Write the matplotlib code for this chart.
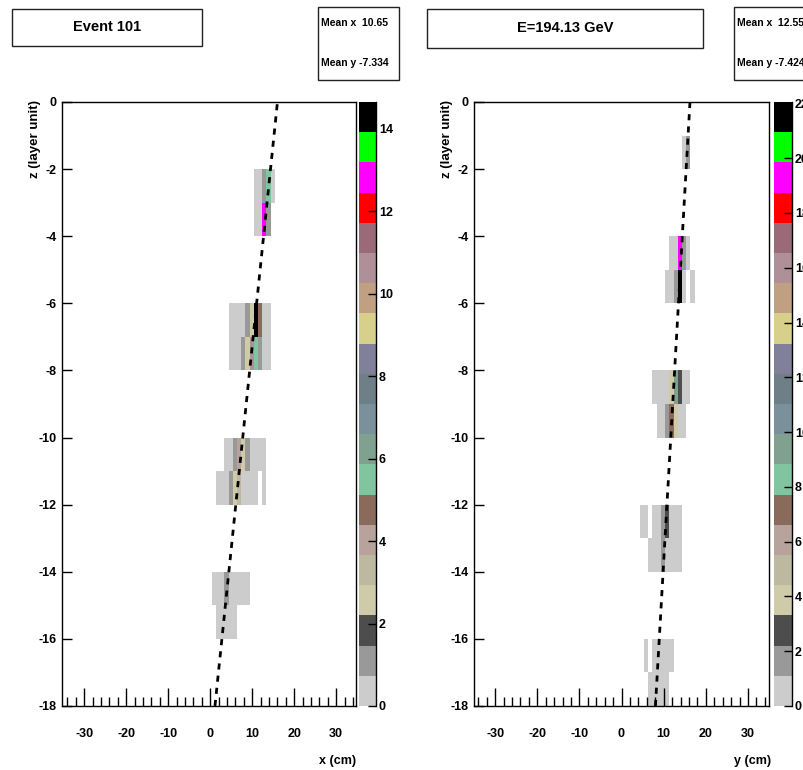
import numpy as np
import matplotlib
matplotlib.use("Agg")
import matplotlib.pyplot as plt
from matplotlib.colors import ListedColormap
from matplotlib.patches import Rectangle
from matplotlib.ticker import MultipleLocator

plt.rcParams['font.family'] = ['Liberation Sans', 'DejaVu Sans']
plt.rcParams['font.weight'] = 'bold'
plt.rcParams['axes.unicode_minus'] = False

# ---------------- data ----------------
palette = ['#cccccc', '#999999', '#4d4d4d', '#cfcaa8', '#bdb8a0', '#b8a39c',
           '#8a6a5a', '#80c4a0', '#80a090', '#7a909a', '#6e7f88', '#80809a',
           '#d6d08a', '#c0a080', '#b09098', '#9a6a78', '#ff0000', '#ff00ff',
           '#00ff00', '#000000']

# left panel: x (cm) cell centres, z (layer) centres, energy
left_x = [10.5, 11.5, 12.5, 13.5, 14.5,
          10.5, 11.5, 12.5, 13.5,
          4.5, 5.5, 6.5, 7.5, 8.5, 9.5, 10.5, 11.5, 12.5, 13.5,
          4.5, 5.5, 6.5, 7.5, 8.5, 9.5, 10.5, 11.5, 12.5, 13.5,
          3.5, 4.5, 5.5, 6.5, 7.5, 8.5, 9.5, 10.5, 11.5, 12.5,
          1.5, 2.5, 3.5, 4.5, 5.5, 6.5, 7.5, 8.5, 9.5, 10.5, 12.5,
          0.5, 1.5, 2.5, 3.5, 4.5, 5.5, 6.5, 7.5, 8.5,
          1.5, 2.5, 3.5, 4.5, 5.5]
left_z = [-2.5] * 5 + [-3.5] * 4 + [-6.5] * 10 + [-7.5] * 10 + [-10.5] * 10 + \
         [-11.5] * 11 + [-14.5] * 9 + [-15.5] * 5
left_e = [0.4, 0.4, 1.1, 5.5, 0.4,
          0.4, 0.4, 12.8, 1.1,
          0.4, 0.4, 0.4, 0.4, 1.1, 2.6, 14.6, 4.8, 0.4, 0.4,
          0.4, 0.4, 0.4, 1.1, 2.6, 10.6, 5.5, 1.1, 0.4, 0.4,
          0.4, 0.4, 1.1, 4.0, 2.6, 1.1, 0.4, 0.4, 0.4, 0.4,
          0.4, 0.4, 0.4, 1.1, 2.6, 3.3, 0.4, 0.4, 0.4, 0.4, 0.4,
          0.4, 0.4, 0.4, 1.1, 0.4, 0.4, 0.4, 0.4, 0.4,
          0.4, 0.4, 0.4, 0.4, 0.4]
left_vmax = 14.65
left_fit_x = [1.12, 16.0]
fit_z = [-18.0, 0.0]

# right panel: y (cm) cell centres, z centres, energy
right_y = [14.5, 15.5,
           11.5, 12.5, 13.5, 14.5, 15.5,
           10.5, 11.5, 12.5, 13.5, 14.5, 16.5,
           7.5, 8.5, 9.5, 10.5, 11.5, 12.5, 13.5, 14.5, 15.5,
           8.5, 9.5, 10.5, 11.5, 12.5, 13.5, 14.5,
           4.5, 5.5, 7.5, 8.5, 9.5, 10.5, 11.5, 12.5, 13.5,
           6.5, 7.5, 8.5, 9.5, 10.5, 11.5, 12.5, 13.5,
           5.5, 7.5, 8.5, 9.5, 10.5, 11.5,
           6.5, 7.5, 8.5, 9.5, 10.5]
right_z = [-1.5] * 2 + [-4.5] * 5 + [-5.5] * 6 + [-8.5] * 9 + [-9.5] * 7 + \
          [-12.5] * 9 + [-13.5] * 8 + [-16.5] * 6 + [-17.5] * 5
right_e = [0.5, 1.6,
           0.5, 0.5, 19.3, 1.6, 0.5,
           0.5, 0.5, 1.6, 21.5, 0.5, 0.5,
           0.5, 0.5, 0.5, 0.5, 3.8, 9.4, 2.7, 0.5, 0.5,
           0.5, 0.5, 1.6, 7.2, 3.8, 0.5, 0.5,
           0.5, 0.5, 0.5, 0.5, 1.6, 2.7, 0.5, 0.5, 0.5,
           0.5, 0.5, 0.5, 1.6, 0.5, 0.5, 0.5, 0.5,
           0.5, 0.5, 0.5, 0.5, 0.5, 0.5,
           0.5, 0.5, 0.5, 0.5, 0.5]
right_vmax = 22.05
right_fit_y = [8.05, 16.25]

x_ticks = [-30, -20, -10, 0, 10, 20, 30]
z_ticks = [0, -2, -4, -6, -8, -10, -12, -14, -16, -18]

# ---------------- figure ----------------
W, H = 804, 770
fig = plt.figure(figsize=(W / 100, H / 100), dpi=100)
fig.patch.set_facecolor('white')


def frect(x0, y0, x1, y1):
    return [x0 / W, 1 - y1 / H, (x1 - x0) / W, (y1 - y0) / H]


cmap = ListedColormap(palette)
xedges = np.arange(-35, 36, 1) + 0.35
zedges = np.arange(-18, 1, 1)


def panel(ax_px, cax_px, xlim, xs, zs, es, vmax, fit_x, cticks, xlabel, xlabel_px):
    ax = fig.add_axes(frect(*ax_px))
    Hh, _, _ = np.histogram2d(xs, zs, bins=[xedges, zedges], weights=es)
    Hm = np.ma.masked_where(Hh.T <= 0, Hh.T)
    mesh = ax.pcolormesh(xedges, zedges, Hm, cmap=cmap, vmin=0, vmax=vmax)
    ax.plot(fit_x, fit_z, color='black', lw=2, linestyle=(0, (2.2, 2.2)))
    ax.set_xlim(*xlim)
    ax.set_ylim(-18, 0)
    ax.set_xticks(x_ticks)
    ax.xaxis.set_minor_locator(MultipleLocator(2))
    ax.set_yticks(z_ticks)
    ax.tick_params(axis='x', which='major', direction='in', length=13, width=1,
                   pad=16, labelsize=9)
    ax.tick_params(axis='x', which='minor', direction='in', length=6.5, width=1)
    ax.tick_params(axis='y', which='major', direction='in', length=7, width=1,
                   pad=4, labelsize=9)
    for lab in ax.get_xticklabels() + ax.get_yticklabels():
        lab.set_fontweight('bold')
    for s in ax.spines.values():
        s.set_linewidth(1)
    # colour bar
    cax = fig.add_axes(frect(*cax_px))
    cb = fig.colorbar(mesh, cax=cax)
    cb.outline.set_visible(False)
    cb.set_ticks(cticks)
    cax.tick_params(axis='y', direction='in', length=6, width=1, pad=2,
                    labelsize=9)
    for lab in cax.get_yticklabels():
        lab.set_fontweight('bold')
    cax.plot([1, 1], [0, 1], transform=cax.transAxes, color='black', lw=1,
             clip_on=False)
    fig.text(xlabel_px / W, 1 - 761 / H, xlabel, ha='right', va='center',
             fontsize=9, fontweight='bold')
    return ax


panel((62, 102, 356, 706), (359, 102, 376, 706), (-35.3, 34.7), left_x, left_z,
      left_e, left_vmax, left_fit_x, list(range(0, 15, 2)), 'x (cm)', 356)
panel((474, 102, 769, 706), (774, 102, 792, 706), (-35, 35), right_y, right_z,
      right_e, right_vmax, right_fit_y, list(range(0, 23, 2)), 'y (cm)', 771)

for xp in (35, 447):
    fig.text(xp / W, 1 - 100 / H, 'z (layer unit)', rotation=90, ha='center',
             va='top', fontsize=9.5, fontweight='bold')


def box(x0, y0, x1, y1):
    fig.add_artist(Rectangle((x0 / W, 1 - y1 / H), (x1 - x0) / W, (y1 - y0) / H,
                             transform=fig.transFigure, facecolor='white',
                             edgecolor='#222222', lw=1, clip_on=False))


box(12, 9, 202, 46)
fig.text(107 / W, 1 - 27 / H, 'Event 101', ha='center', va='center',
         fontsize=10.5, fontweight='bold')
box(318, 7, 399, 80)
fig.text(321 / W, 1 - 23 / H, 'Mean x  10.65', ha='left', va='center',
         fontsize=7.5, fontweight='bold')
fig.text(321 / W, 1 - 63 / H, 'Mean y -7.334', ha='left', va='center',
         fontsize=7.5, fontweight='bold')

box(427, 9, 703, 48)
fig.text(565 / W, 1 - 28 / H, 'E=194.13 GeV', ha='center', va='center',
         fontsize=10.5, fontweight='bold')
box(734, 7, 830, 80)
fig.text(737 / W, 1 - 23 / H, 'Mean x  12.55', ha='left', va='center',
         fontsize=7.5, fontweight='bold')
fig.text(737 / W, 1 - 63 / H, 'Mean y -7.424', ha='left', va='center',
         fontsize=7.5, fontweight='bold')

fig.savefig('out.png', dpi=100)
